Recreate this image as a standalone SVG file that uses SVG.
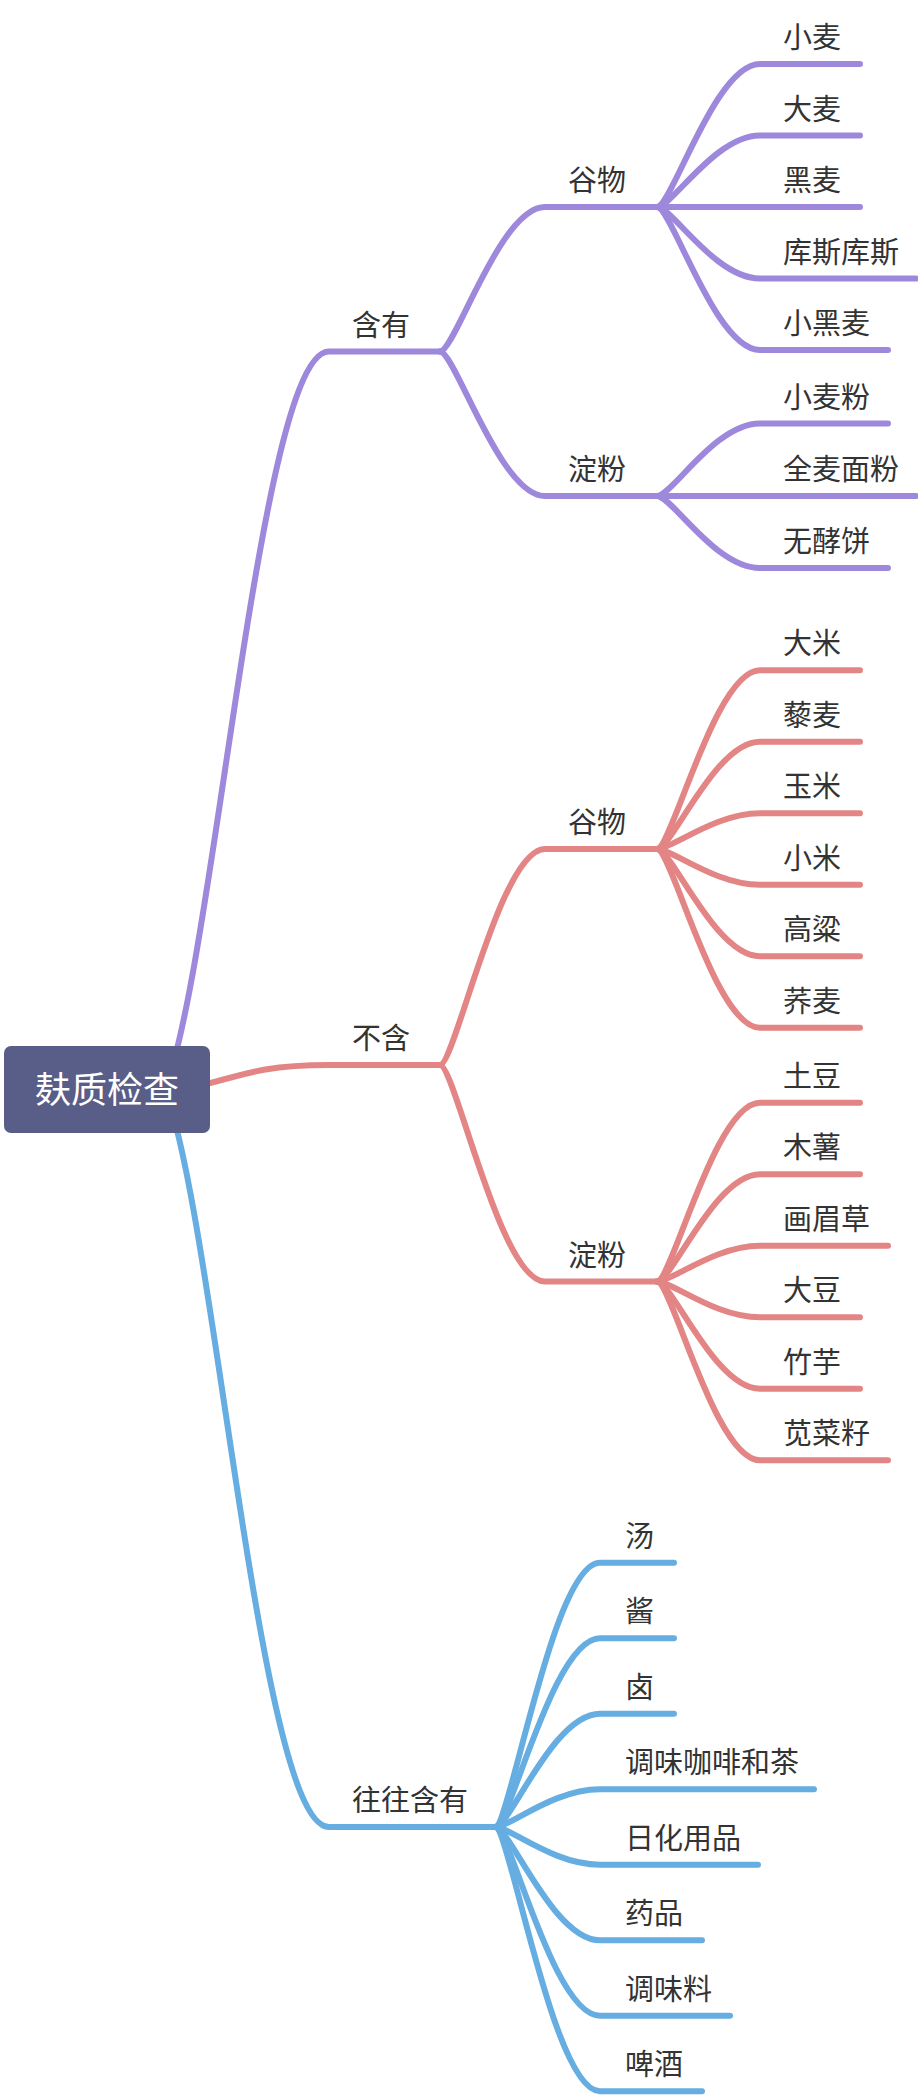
<svg xmlns="http://www.w3.org/2000/svg" width="918" height="2100" viewBox="0 0 918 2100">
<style>
.c{fill:none;stroke-width:6;stroke-linecap:round;stroke-linejoin:round}
.p{stroke:#9E88DC}.r{stroke:#E38585}.b{stroke:#66ADE2}
.t{font-family:"Noto Sans CJK SC","Noto Sans",sans-serif;font-size:29px;fill:#333333}
.rt{font-family:"Noto Sans CJK SC","Noto Sans",sans-serif;font-size:36px;fill:#FFFFFF}
</style>
<rect width="918" height="2100" fill="#FFFFFF"/>
<g id="connectors">
<!-- root to level 1 -->
<path class="c p" d="M165,1089 C215,960 260,351.5 329,351.5 L440,351.5"/>
<path class="c r" d="M200,1086 C250,1072 270,1065 329,1065 L440,1065"/>
<path class="c b" d="M165,1090 C215,1219 260,1827 329,1827 L495,1827"/>
<!-- level 1 to level 2 -->
<path class="c p" d="M440,351.5 C455,351.5 500,207 545,207 L657,207"/>
<path class="c p" d="M440,351.5 C455,351.5 500,496 545,496 L657,496"/>
<path class="c r" d="M440,1065 C455,1065 500,849 545,849 L657,849"/>
<path class="c r" d="M440,1065 C455,1065 500,1281.5 545,1281.5 L657,1281.5"/>
<!-- purple grain leaves -->
<path class="c p" d="M657,207 C672,207 715,64 760,64 L860,64"/>
<path class="c p" d="M657,207 C672,207 715,135.5 760,135.5 L860,135.5"/>
<path class="c p" d="M657,207 L860,207"/>
<path class="c p" d="M657,207 C672,207 715,278.5 760,278.5 L916,278.5"/>
<path class="c p" d="M657,207 C672,207 715,350 760,350 L888,350"/>
<!-- purple starch leaves -->
<path class="c p" d="M657,496 C672,496 715,423.5 760,423.5 L888,423.5"/>
<path class="c p" d="M657,496 L916,496"/>
<path class="c p" d="M657,496 C672,496 715,568 760,568 L888,568"/>
<!-- red grain leaves -->
<path class="c r" d="M657,849 C672,849 715,670.25 760,670.25 L860,670.25"/>
<path class="c r" d="M657,849 C672,849 715,741.75 760,741.75 L860,741.75"/>
<path class="c r" d="M657,849 C672,849 715,813.25 760,813.25 L860,813.25"/>
<path class="c r" d="M657,849 C672,849 715,884.75 760,884.75 L860,884.75"/>
<path class="c r" d="M657,849 C672,849 715,956.25 760,956.25 L860,956.25"/>
<path class="c r" d="M657,849 C672,849 715,1027.75 760,1027.75 L860,1027.75"/>
<!-- red starch leaves -->
<path class="c r" d="M657,1281.5 C672,1281.5 715,1102.75 760,1102.75 L860,1102.75"/>
<path class="c r" d="M657,1281.5 C672,1281.5 715,1174.25 760,1174.25 L860,1174.25"/>
<path class="c r" d="M657,1281.5 C672,1281.5 715,1245.75 760,1245.75 L888,1245.75"/>
<path class="c r" d="M657,1281.5 C672,1281.5 715,1317.25 760,1317.25 L860,1317.25"/>
<path class="c r" d="M657,1281.5 C672,1281.5 715,1388.75 760,1388.75 L860,1388.75"/>
<path class="c r" d="M657,1281.5 C672,1281.5 715,1460.25 760,1460.25 L888,1460.25"/>
<!-- blue leaves -->
<path class="c b" d="M495,1827 C510,1827 553,1562.75 600,1562.75 L674,1562.75"/>
<path class="c b" d="M495,1827 C510,1827 553,1638.25 600,1638.25 L674,1638.25"/>
<path class="c b" d="M495,1827 C510,1827 553,1713.75 600,1713.75 L674,1713.75"/>
<path class="c b" d="M495,1827 C510,1827 553,1789.25 600,1789.25 L814,1789.25"/>
<path class="c b" d="M495,1827 C510,1827 553,1864.75 600,1864.75 L758,1864.75"/>
<path class="c b" d="M495,1827 C510,1827 553,1940.25 600,1940.25 L702,1940.25"/>
<path class="c b" d="M495,1827 C510,1827 553,2015.75 600,2015.75 L730,2015.75"/>
<path class="c b" d="M495,1827 C510,1827 553,2091.25 600,2091.25 L702,2091.25"/>
</g>
<g id="root">
<rect x="4" y="1046" width="206" height="87" rx="7" fill="#585E88"/>
<text class="rt" x="107" y="1103" text-anchor="middle">麸质检查</text>
</g>
<g id="n-hanyou"><text class="t" x="352" y="335.5">含有</text></g>
<g id="n-buhan"><text class="t" x="352" y="1049">不含</text></g>
<g id="n-wangwang"><text class="t" x="352" y="1811">往往含有</text></g>
<g id="n-p-guwu"><text class="t" x="568" y="191">谷物</text></g>
<g id="n-p-dianfen"><text class="t" x="568" y="480">淀粉</text></g>
<g id="n-r-guwu"><text class="t" x="568" y="833">谷物</text></g>
<g id="n-r-dianfen"><text class="t" x="568" y="1265.5">淀粉</text></g>
<g id="n-xiaomai"><text class="t" x="783" y="48">小麦</text></g>
<g id="n-damai"><text class="t" x="783" y="119.5">大麦</text></g>
<g id="n-heimai"><text class="t" x="783" y="191">黑麦</text></g>
<g id="n-kusi"><text class="t" x="783" y="262.5">库斯库斯</text></g>
<g id="n-xiaoheimai"><text class="t" x="783" y="334">小黑麦</text></g>
<g id="n-xiaomaifen"><text class="t" x="783" y="407.5">小麦粉</text></g>
<g id="n-quanmai"><text class="t" x="783" y="480">全麦面粉</text></g>
<g id="n-wujiao"><text class="t" x="783" y="552">无酵饼</text></g>
<g id="n-dami"><text class="t" x="783" y="654.25">大米</text></g>
<g id="n-limai"><text class="t" x="783" y="725.75">藜麦</text></g>
<g id="n-yumi"><text class="t" x="783" y="797.25">玉米</text></g>
<g id="n-xiaomi"><text class="t" x="783" y="868.75">小米</text></g>
<g id="n-gaoliang"><text class="t" x="783" y="940.25">高粱</text></g>
<g id="n-qiaomai"><text class="t" x="783" y="1011.75">荞麦</text></g>
<g id="n-tudou"><text class="t" x="783" y="1086.75">土豆</text></g>
<g id="n-mushu"><text class="t" x="783" y="1158.25">木薯</text></g>
<g id="n-huamei"><text class="t" x="783" y="1229.75">画眉草</text></g>
<g id="n-dadou"><text class="t" x="783" y="1301.25">大豆</text></g>
<g id="n-zhuyu"><text class="t" x="783" y="1372.75">竹芋</text></g>
<g id="n-xiancai"><text class="t" x="783" y="1444.25">苋菜籽</text></g>
<g id="n-tang"><text class="t" x="625" y="1546.75">汤</text></g>
<g id="n-jiang"><text class="t" x="625" y="1622.25">酱</text></g>
<g id="n-lu"><text class="t" x="625" y="1697.75">卤</text></g>
<g id="n-kafei"><text class="t" x="625" y="1773.25">调味咖啡和茶</text></g>
<g id="n-rihua"><text class="t" x="625" y="1848.75">日化用品</text></g>
<g id="n-yaopin"><text class="t" x="625" y="1924.25">药品</text></g>
<g id="n-tiaoweiliao"><text class="t" x="625" y="1999.75">调味料</text></g>
<g id="n-pijiu"><text class="t" x="625" y="2075.25">啤酒</text></g>
</svg>
